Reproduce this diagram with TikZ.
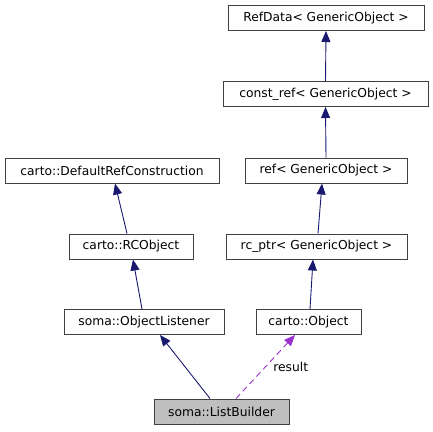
\documentclass[tikz,border=0pt]{standalone}
\usepackage{fontspec}
\setmainfont{DejaVu Sans}
\usetikzlibrary{positioning, arrows.meta}

\definecolor{midnightblue}{HTML}{191970}
\definecolor{orchid}{HTML}{9A32CD}
\tikzset{
  cls/.style={draw=black!75, fill=white, line width=1pt, minimum height=25pt,
    inner sep=0pt, font=\fontsize{12.3}{14}\selectfont},
  inh/.style={draw=midnightblue, line width=0.9pt, {Triangle[length=11pt,width=9pt]}-},
  usage/.style={draw=orchid, line width=0.9pt, dash pattern=on 6pt off 4pt,
    {Triangle[length=11pt,width=9pt]}-}
}

\begin{document}
\begin{tikzpicture}[x=1pt,y=-1pt]
    \useasboundingbox (0,0) rectangle (433,431);
    % top chain
    \node[cls, minimum width=196pt] (refdata) at (326,18) {RefData< GenericObject >};
    \node[cls, minimum width=205pt] (cref) at (325.5,94) {const\_ref< GenericObject >};
    \node[cls, minimum width=162pt] (ref) at (326,170.5) {ref< GenericObject >};
    \node[cls, minimum width=181pt] (rcptr) at (316.5,246.5) {rc\_ptr< GenericObject >};
    \node[cls, minimum width=105pt] (obj) at (308.5,322) {carto::Object};
    % left chain
    \node[cls, minimum width=214pt] (drc) at (112,170.5) {carto::DefaultRefConstruction};
    \node[cls, minimum width=124pt] (rco) at (131,246.5) {carto::RCObject};
    \node[cls, minimum width=160pt] (ol) at (144,322) {soma::ObjectListener};
    \node[cls, minimum width=135pt, fill=black!25] (lb) at (221.5,411.5) {soma::ListBuilder};

    \draw[inh] (refdata.south) -- (cref.north);
    \draw[inh] (cref.south) -- (ref.north);
    \draw[inh] ([xshift=-4pt]ref.south) -- ([xshift=1.5pt]rcptr.north);
    \draw[inh] ([xshift=-3.5pt]rcptr.south) -- ([xshift=1.5pt]obj.north);
    \draw[inh] ([xshift=3pt]drc.south) -- ([xshift=-4pt]rco.north);
    \draw[inh] ([xshift=2pt]rco.south) -- ([xshift=-2pt]ol.north);
    \draw[inh] ([xshift=16pt]ol.south) -- ([xshift=-11.5pt]lb.north);
    \draw[usage] ([xshift=-13.5pt]obj.south) -- node[pos=0.5, right=4pt, text=black,
      font=\fontsize{12.3}{14}\selectfont] (res) {result} ([xshift=14.5pt]lb.north);
\end{tikzpicture}
\end{document}
